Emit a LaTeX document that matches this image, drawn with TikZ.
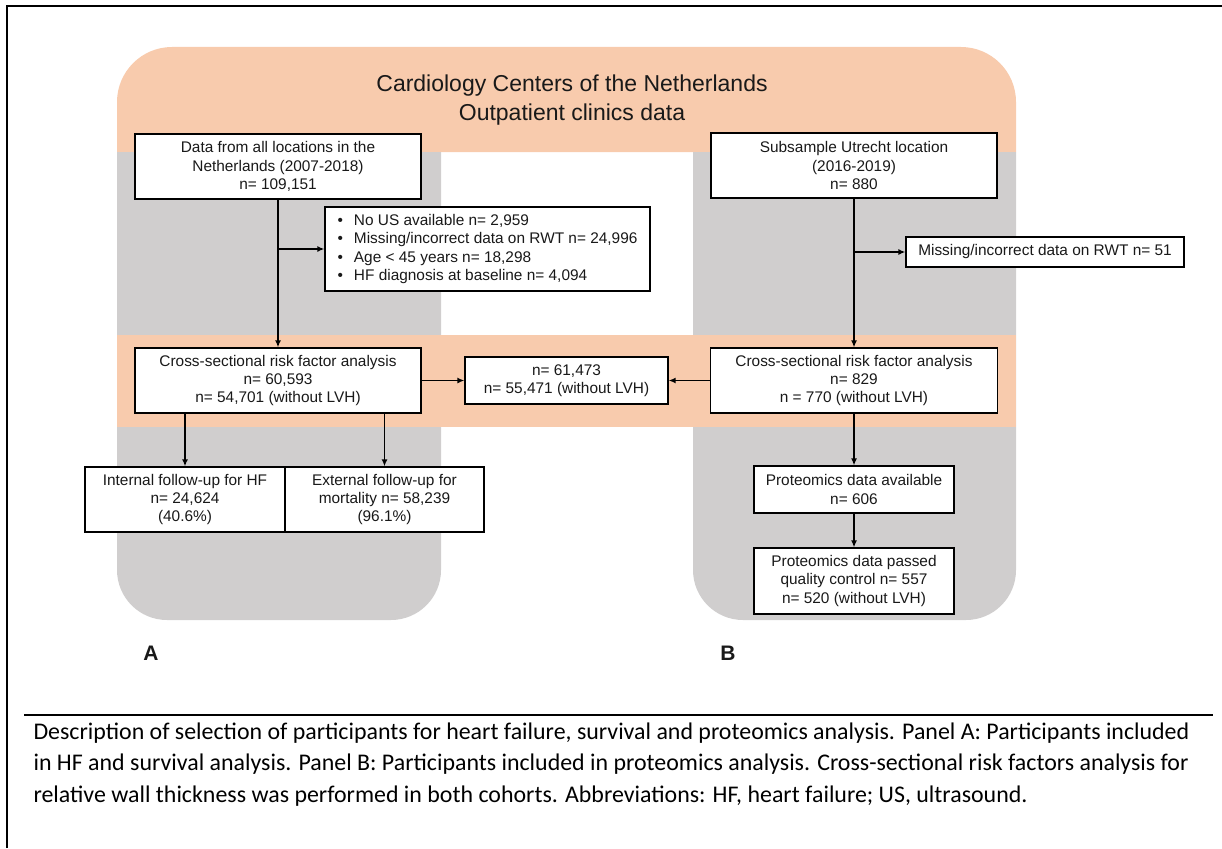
\documentclass[tikz,border=0pt]{standalone}
\usepackage{fontspec}
\setmainfont{Liberation Sans}
\newfontfamily\capfont{Carlito}
\usetikzlibrary{arrows.meta}
\definecolor{peach}{RGB}{248,203,173}
\definecolor{panelgrey}{RGB}{208,206,206}

\begin{document}
\begin{tikzpicture}[x=1pt, y=1pt,
	every node/.style = {align=center, text=black!90, font=\fontsize{15.4}{18.3}\selectfont},
	box/.style = {draw, line width=1.3pt, fill=white, inner sep=0pt},
	arr/.style = {line width=1.6pt, -{Latex[length=7pt, width=6pt]}}]
		\useasboundingbox (0,0) rectangle (1222,-848);
		% frame and panels
		\draw[line width=2pt] (7,-848) -- (7,-6) -- (1222,-6);
		\fill[peach] (117,-152) -- (117,-102) arc[start angle=180, end angle=90, radius=55]
			-- (961,-47) arc[start angle=90, end angle=0, radius=55] -- (1016,-152) -- cycle;
		\fill[panelgrey] (117,-152) -- (117,-570) arc[start angle=180, end angle=270, radius=50]
			-- (391,-620) arc[start angle=270, end angle=360, radius=50] -- (441,-152) -- cycle;
		\fill[panelgrey] (693,-152) -- (693,-570) arc[start angle=180, end angle=270, radius=50]
			-- (966,-620) arc[start angle=270, end angle=360, radius=50] -- (1016,-152) -- cycle;
		\fill[peach] (117,-335) rectangle (1016,-427);
		\node[font=\fontsize{23}{29}\selectfont] (title) at (572,-100.5) {Cardiology Centers of the Netherlands\\Outpatient clinics data};
		% panel A
		\node[box, minimum width=286, minimum height=65] (all) at (278,-166.5) {Data from all locations in the\\Netherlands (2007-2018)\\n= 109,151};
		\node[box, minimum width=325, minimum height=84, align=left] (excl) at (487.5,-249) {%
			\textbullet\hspace{11pt}No US available n= 2,959\\
			\textbullet\hspace{11pt}Missing/incorrect data on RWT n= 24,996\\
			\textbullet\hspace{11pt}Age < 45 years n= 18,298\\
			\textbullet\hspace{11pt}HF diagnosis at baseline n= 4,094};
		\node[box, minimum width=286, minimum height=65] (crossA) at (278,-380.5) {Cross-sectional risk factor analysis\\n= 60,593\\n= 54,701 (without LVH)};
		\node[box, minimum width=200, minimum height=65] (intFU) at (185,-499.5) {Internal follow-up for HF\\n= 24,624\\(40.6\%)};
		\node[box, minimum width=199, minimum height=65] (extFU) at (384.5,-499.5) {External follow-up for\\mortality n= 58,239\\(96.1\%)};
		\node[font=\bfseries\fontsize{21}{21}\selectfont] (labA) at (151,-653) {A};
		% pooled
		\node[box, minimum width=203, minimum height=47] (pool) at (566.5,-380.5) {n= 61,473\\n= 55,471 (without LVH)};
		% panel B
		\node[box, minimum width=286, minimum height=65] (utr) at (854,-165.5) {Subsample Utrecht location\\(2016-2019)\\n= 880};
		\node[box, minimum width=278, minimum height=30] (exclB) at (1045,-252) {Missing/incorrect data on RWT n= 51};
		\node[box, minimum width=287, minimum height=65] (crossB) at (854,-380.5) {Cross-sectional risk factor analysis\\n= 829\\n = 770 (without LVH)};
		\node[box, minimum width=200, minimum height=47] (protAv) at (854,-489.5) {Proteomics data available\\n= 606};
		\node[box, minimum width=200, minimum height=66] (protQC) at (854,-581) {Proteomics data passed\\quality control n= 557\\n= 520 (without LVH)};
		\node[font=\bfseries\fontsize{21}{21}\selectfont] (labB) at (728,-653) {B};
		% arrows
		\draw[arr] (all) -- (crossA);
		\draw[arr] (all.south |- excl.west) -- (excl.west);
		\draw[arr] (crossA) -- (pool);
		\draw[arr] (intFU.north |- crossA.south) -- (intFU.north);
		\draw[arr] (extFU.north |- crossA.south) -- (extFU.north);
		\draw[arr] (utr) -- (crossB);
		\draw[arr] (utr.south |- exclB.west) -- (exclB.west);
		\draw[arr] (crossB) -- (pool);
		\draw[arr] (crossB) -- (protAv);
		\draw[arr] (protAv) -- (protQC);
		% caption
		\draw[line width=2pt] (24,-715) -- (1213,-715);
		\node[anchor=base west, align=left, text=black, font=\capfont\fontsize{23.9}{31.5}\selectfont] (caption) at (30,-802) {Description of selection of participants for heart failure, survival and proteomics analysis. Panel A: Participants included\\in HF and survival analysis. Panel B: Participants included in proteomics analysis. Cross-sectional risk factors analysis for\\relative wall thickness was performed in both cohorts. Abbreviations: HF, heart failure; US, ultrasound.};
\end{tikzpicture}
\end{document}
